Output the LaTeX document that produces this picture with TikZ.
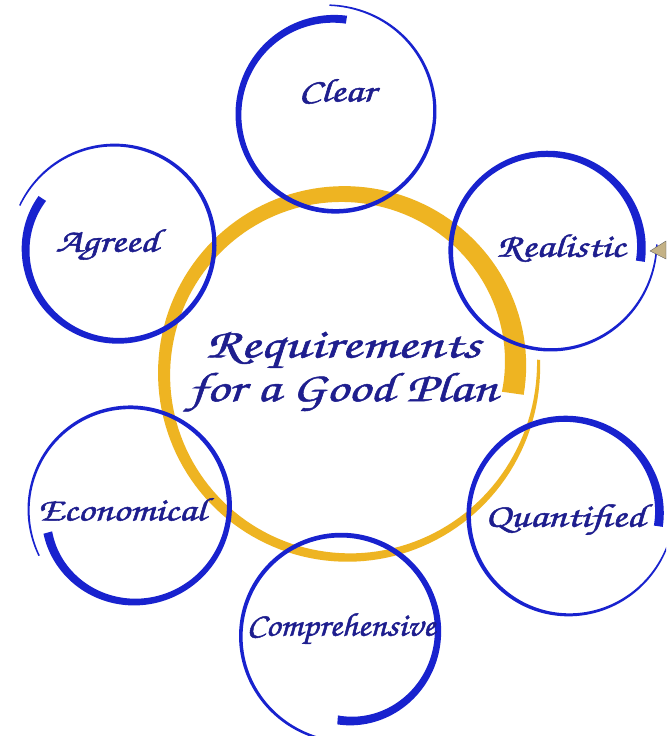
\documentclass[tikz,border=0pt]{standalone}
\usepackage[T1]{fontenc}
\usepackage{tikz}

\definecolor{penblue}{RGB}{24,34,206}
\definecolor{penyellow}{RGB}{238,180,34}
\definecolor{inkblue}{RGB}{30,30,142}
\definecolor{nibtan}{RGB}{196,178,134}

\newcommand{\chancery}{\fontencoding{T1}\fontfamily{pzc}\fontseries{mb}\fontshape{it}\selectfont}
% stretched, slightly heavier handwriting
\newcommand{\wide}[2][1.38]{\scalebox{#1}[1.08]{\special{pdf:literal direct 2 Tr 0.35 w}#2\special{pdf:literal direct 0 Tr}}}

% radius and width of a brush ring along its stroke (#1 runs from 0 to 1)
\pgfmathdeclarefunction{rimr}{1}{\pgfmathparse{\rad - \rin*(1-#1)^5 + \rout*(#1)^5}}
\pgfmathdeclarefunction{rimw}{1}{\pgfmathparse{\wm + (\wa-\wm)*(1-#1)^3 - (\wm-\wb)*(#1)^3}}

\begin{document}
\begin{tikzpicture}[x=0.03cm, y=-0.03cm,
  penlabel/.style={text=inkblue, inner sep=0pt, font=\chancery\fontsize{26}{28}\selectfont},
  plantitle/.style={text=inkblue, inner sep=0pt, align=center, font=\chancery\fontsize{33}{31}\selectfont}]
  \clip (0,0) rectangle (666,736);
  \fill[white] (0,0) rectangle (666,736);

  % brush rings: centre, radius, inward start, outward end, start angle, sweep, widths
  \foreach \cx/\cy/\rad/\rin/\rout/\ang/\swp/\wa/\wm/\wb/\col in {
      346/373/182/14/11/7/-371/22/12/3/penyellow,
      335/114/97/2/12/-83/-370/8/4.5/1.5/penblue,
      548/250/97/4/12/7/-370/9/4.5/1.5/penblue,
      117/245/97/9/8/-148/-370/9/4.5/1.5/penblue,
      131/507/99/12/5/-197/-371/9/4.5/1.5/penblue,
      566/515/97/4/9/7/-350/9/4.5/1.5/penblue,
      342/634/99/13/10/-267/-370/9/4.5/2/penblue}
  {
    \fill[\col, shift={(\cx,\cy)}]
      plot[domain=0:1, samples=160, variable=\pos]
        ({(rimr(\pos)+rimw(\pos)/2)*cos(\ang+\swp*\pos)}, {(rimr(\pos)+rimw(\pos)/2)*sin(\ang+\swp*\pos)})
      -- plot[domain=1:0, samples=160, variable=\pos]
        ({(rimr(\pos)-rimw(\pos)/2)*cos(\ang+\swp*\pos)}, {(rimr(\pos)-rimw(\pos)/2)*sin(\ang+\swp*\pos)})
      -- cycle;
  }

  % pen nib at the edge
  \fill[nibtan, draw=gray!70!black, line width=0.3pt] (650,251) -- (666,241) -- (666,259) -- cycle;

  \node[plantitle] (plan) at (343,372) {\wide[1.5]{Requirements}\\\wide[1.42]{for a Good Plan}};
  \node[penlabel] (clear) at (337,90) {\wide{Clear}};
  \node[penlabel] (realistic) at (561,248) {\wide{Realistic}};
  \node[penlabel] (agreed) at (107,245) {\wide{Agreed}};
  \node[penlabel] (economical) at (122,509) {\wide[1.35]{Economical}};
  \node[penlabel] (quantified) at (565,520) {\wide{Quantified}};
  \node[penlabel] (comprehensive) at (341,629) {\wide[1.19]{Comprehensive}};
\end{tikzpicture}
\end{document}
